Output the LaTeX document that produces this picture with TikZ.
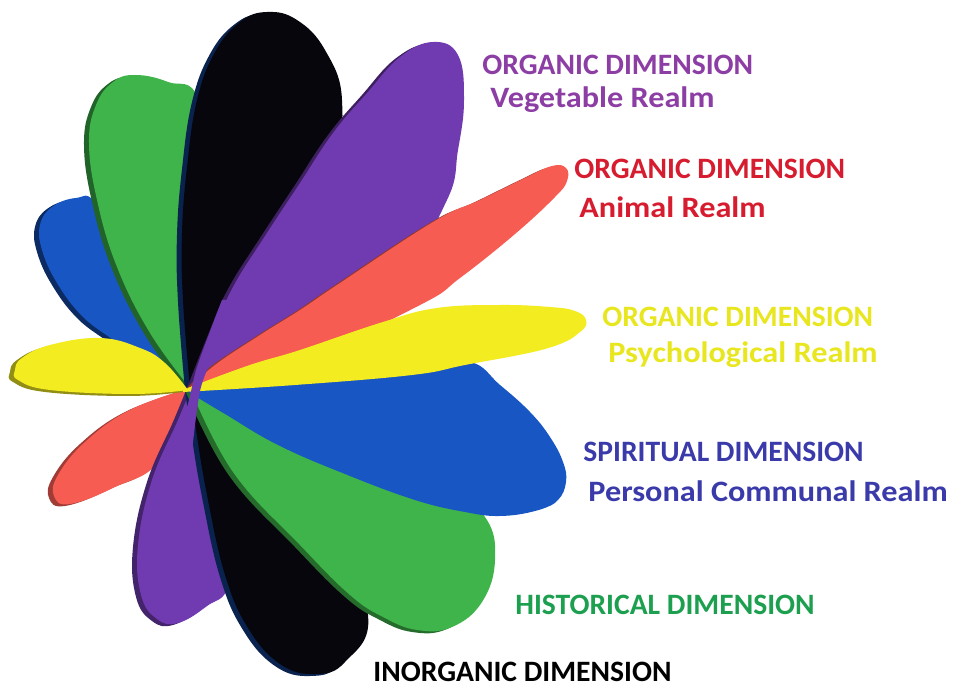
\documentclass[tikz,border=0pt]{standalone}
\usepackage{fontspec}
\setmainfont{Carlito}
\definecolor{tpurple}{RGB}{140,62,165}
\definecolor{tred}{RGB}{214,28,46}
\definecolor{tyellow}{RGB}{232,230,30}
\definecolor{tblue}{RGB}{58,58,170}
\definecolor{tgreen}{RGB}{28,160,80}
\definecolor{ppurple}{RGB}{112,58,176}
\definecolor{pred}{RGB}{246,92,82}
\definecolor{pyellow}{RGB}{242,236,32}
\definecolor{pblue}{RGB}{24,86,196}
\definecolor{pgreen}{RGB}{62,180,74}
\definecolor{pblack}{RGB}{6,6,12}
\newcommand\mypetal[3]{%
  \fill[#2, shift={(-5,2)}] plot[smooth, tension=0.7] coordinates {#3} -- cycle;
  \fill[#1] plot[smooth, tension=0.7] coordinates {#3} -- cycle;
}
\newcommand\wide[1]{\scalebox{1.09}[1]{#1}}
\begin{document}
\begin{tikzpicture}[x=0.5pt,y=-0.5pt,
  lbl/.style={font=\fontsize{14.8}{18}\selectfont\bfseries, inner sep=0pt, anchor=base west}]
\useasboundingbox (0,0) rectangle (965,689);
\fill[white] (0,0) rectangle (965,689);
\coordinate (C) at (190,388);
% back to front
\mypetal{pred}{pred!65!black}{(190,388) (130,410) (85,442) (58,475) (54,496) (70,504) (115,487) (160,460) (190,388)}
\mypetal{ppurple}{ppurple!60!black}{(192,386) (178,420) (152,480) (138,545) (141,595) (157,619) (178,623) (207,606) (228,585) (226,520) (205,440) (192,386)}
\mypetal{pblack}{pblue!40!black}{(190,388) (196,430) (207,495) (225,575) (248,628) (280,664) (315,674) (345,662) (368,615) (330,520) (260,440) (190,388)}
\mypetal{pgreen}{pgreen!60!black}{(190,388) (233,472) (300,545) (350,595) (383,617) (417,630) (452,627) (482,602) (495,560) (485,517) (440,480) (350,440) (250,405) (190,388)}
\mypetal{pblue}{pblue!50!black}{(190,388) (143,367) (117,343) (83,317) (57,283) (42,250) (40,225) (52,207) (76,198) (96,203) (130,260) (165,330) (190,388)}
\mypetal{pgreen}{pgreen!55!black}{(190,388) (150,333) (117,267) (97,200) (89,143) (96,105) (113,82) (135,75) (168,82) (199,100) (215,200) (200,300) (190,388)}
\mypetal{pblack}{pblue!40!black}{(190,388) (183,300) (182,233) (187,167) (197,100) (215,52) (240,22) (267,12) (297,20) (325,50) (342,100) (330,170) (270,300) (190,388)}
\mypetal{ppurple}{ppurple!55!black}{(192,386) (213,333) (233,287) (267,233) (300,183) (333,133) (367,93) (400,57) (433,42) (458,55) (464,100) (458,150) (447,200) (400,270) (300,340) (192,386)}
\mypetal{pred}{pred!60!black}{(190,388) (215,365) (260,335) (300,310) (337,285) (433,222) (480,200) (525,178) (552,166) (566,168) (567,181) (555,197) (515,234) (460,278) (420,305) (300,360) (190,388)}
\mypetal{pblue}{pblue}{(190,388) (300,380) (420,368) (470,362) (500,385) (530,412) (550,437) (563,462) (566,482) (558,500) (540,509) (505,514) (470,510) (420,498) (350,472) (283,443) (230,412) (190,388)}
\mypetal{pyellow}{pyellow!60!black}{(188,390) (165,363) (140,348) (100,338) (50,345) (22,358) (15,370) (18,380) (50,390) (133,394) (188,390)}
\mypetal{pyellow}{pyellow}{(188,388) (250,365) (300,350) (383,322) (437,308) (500,305) (550,307) (575,311) (586,320) (580,332) (550,347) (470,363) (417,373) (300,383) (188,390)}
% purple band through the centre
\fill[ppurple] plot[smooth] coordinates {(222,300) (197,367) (186,410) (160,470)} -- plot[smooth] coordinates {(190,470) (197,410) (205,375) (240,300)} -- cycle;
% labels
\node[lbl, tpurple] (t1) at (482,75) {ORGANIC DIMENSION};
\node[lbl, tpurple] (t2) at (490,108) {\wide{Vegetable Realm}};
\node[lbl, tred] (t3) at (574,179) {ORGANIC DIMENSION};
\node[lbl, tred] (t4) at (579,218) {\wide{Animal Realm}};
\node[lbl, tyellow] (t5) at (602,327) {ORGANIC DIMENSION};
\node[lbl, tyellow] (t6) at (608,363) {\wide{Psychological Realm}};
\node[lbl, tblue] (t7) at (583,462) {SPIRITUAL DIMENSION};
\node[lbl, tblue] (t8) at (588,502) {\wide{Personal Communal Realm}};
\node[lbl, tgreen] (t9) at (515,615) {HISTORICAL DIMENSION};
\node[lbl, black] (t10) at (373,682) {INORGANIC DIMENSION};
\end{tikzpicture}
\end{document}
